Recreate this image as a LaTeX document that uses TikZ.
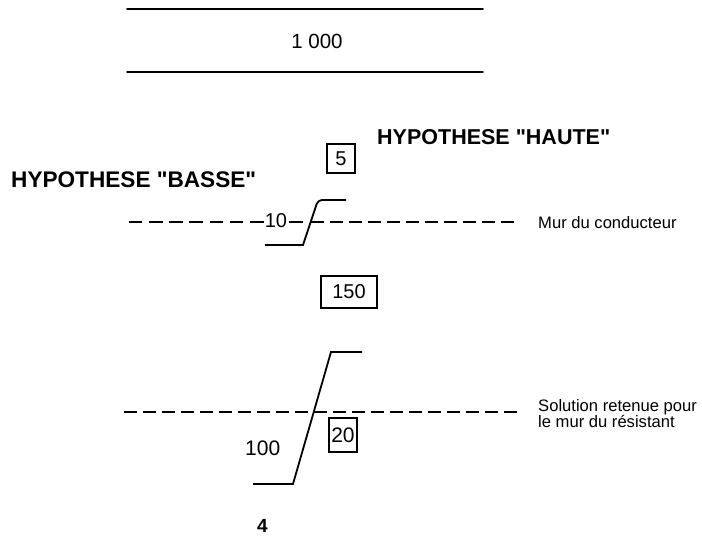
\documentclass[tikz,border=0pt]{standalone}
\usepackage{fontspec}
\setmainfont{Liberation Sans}[Ligatures=TeXOff]
\begin{document}
\begin{tikzpicture}[x=1pt,y=-1pt,
  solidline/.style={line width=1.9pt,line cap=round},
  wall/.style={line width=1.8pt},
  axisdash/.style={line width=1.7pt,dash pattern=on 12.5pt off 6.5pt},
  valbox/.style={draw,line width=1.3pt,inner sep=0pt,
    font=\fontsize{20}{24}\selectfont},
  lbl/.style={inner sep=0pt,anchor=base west},
  big/.style={font=\fontsize{20.5}{24}\selectfont},
  note/.style={font=\fontsize{16.6}{18}\selectfont},
  title/.style={font=\bfseries\fontsize{22}{26}\selectfont}]
\useasboundingbox (0,0) rectangle (702,540);

% upper band: total value between two rules
\draw[solidline] (127,9) -- (483,9);
\draw[solidline] (127,72) -- (483,72);
\node[inner sep=0pt,anchor=base,big] (total) at (317,49) {1 000};

% hypothesis headings
\node[lbl,title,font=\bfseries\fontsize{22.6}{26}\selectfont] (basse) at (11,188) {HYPOTHESE "BASSE"};
\node[lbl,title,font=\bfseries\fontsize{21.5}{26}\selectfont] (haute) at (377,145) {HYPOTHESE "HAUTE"};

% boxed values
\node[valbox,minimum width=28pt,minimum height=29pt] (v5) at (341,158.5) {5};
\node[valbox,minimum width=56pt,minimum height=32pt] (v150) at (349,292) {150};
\node[valbox,minimum width=28pt,minimum height=34pt,
  font=\fontsize{21}{24}\selectfont] (v20) at (343,435) {20};

% upper wall (conductor side)
\node[inner sep=0pt,anchor=base,big,font=\fontsize{20}{24}\selectfont] (v10) at (276,228) {10};
\coordinate (cl) at (127,222);
\coordinate (ce) at (303,222);
\coordinate (cs) at (311,222);
\coordinate (cr) at (515,222);
\draw[axisdash,dash pattern=on 13.7pt off 6.5pt] ([xshift=-1pt]v10.west |- ce) -- (cl);
\draw[line width=1.7pt] ([xshift=2pt]v10.east |- ce) -- (ce);
\draw[axisdash] (cs) -- (cr);
\draw[wall] (265,245) -- (303,245) [rounded corners=4pt] -- (318,200) -- (346,200);
\node[lbl,note] (mur) at (538,229) {Mur du conducteur};

% lower wall (retained solution)
\coordinate (rl) at (124,412);
\coordinate (rr) at (518,412);
\draw[axisdash] (rl) -- (rr);
\draw[wall] (253,484) -- (293,484) -- (331,352) -- (362,352);
\node[lbl,font=\fontsize{21}{24}\selectfont] (v100) at (245,455) {100};
\node[lbl,note] (sol1) at (538,411) {Solution retenue pour};
\node[lbl,note] (sol2) at (538,427) {le mur du résistant};

\node[lbl,font=\bfseries\fontsize{19}{22}\selectfont] (v4) at (257,532) {4};
\end{tikzpicture}
\end{document}
